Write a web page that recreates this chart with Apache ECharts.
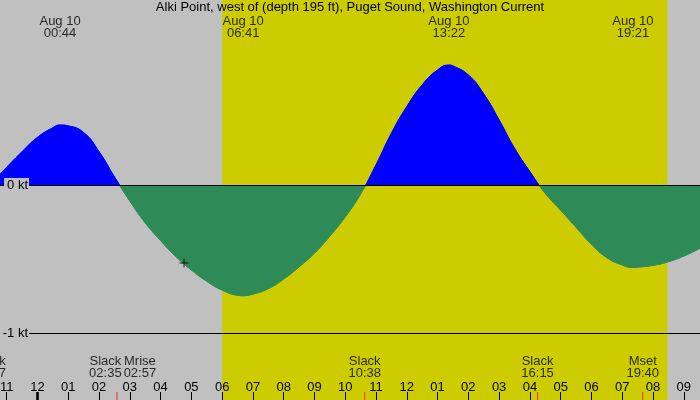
<!DOCTYPE html>
<html>
<head>
<meta charset="utf-8">
<script src="https://cdn.jsdelivr.net/npm/echarts@6/dist/echarts.min.js"></script>
<style>
  html, body { margin: 0; padding: 0; background: #c0c0c0; }
  #chart { width: 700px; height: 400px; }
</style>
</head>
<body>
<div id="chart"></div>
<script>
// hours after midnight Aug 10 (negative = Aug 9), current in knots (+ flood, - ebb)
const flowHours = [-1.5, -1, -0.5, 0, 0.5, 0.733, 1, 1.5, 2, 2.5, 3,
  3.5, 4, 4.5, 5, 5.5, 6, 6.5, 6.683, 7, 7.5, 8,
  8.5, 9, 9.5, 10, 10.5, 11, 11.5, 12, 12.5, 13, 13.367,
  13.5, 14, 14.5, 15, 15.5, 16, 16.5, 17, 17.5, 18,
  18.5, 19, 19.35, 19.5, 20, 20.5, 21, 21.53]
const flowKnots = [0.01, 0.12, 0.225, 0.322, 0.387, 0.405, 0.399, 0.354, 0.225, 0.055, -0.108,
  -0.255, -0.375, -0.484, -0.574, -0.65, -0.71, -0.745, -0.748, -0.737, -0.7, -0.635,
  -0.553, -0.46, -0.345, -0.215, -0.06, 0.135, 0.349, 0.529, 0.676, 0.777, 0.81,
  0.804, 0.743, 0.615, 0.439, 0.248, 0.09, -0.056, -0.17, -0.285, -0.4,
  -0.49, -0.54, -0.557, -0.555, -0.543, -0.518, -0.48, -0.427]

// max flood / max ebb
const peakHours = [0.733, 6.683, 13.367, 19.35]
const peakTimes = ['00:44', '06:41', '13:22', '19:21']
const peakDate = 'Aug 10'

// slack water and moon events along the bottom
const eventHours = [-1.55, 2.583, 2.95, 10.633, 16.25, 19.667]
const eventNames = ['Slack', 'Slack', 'Mrise', 'Slack', 'Slack', 'Mset']
const eventTimes = ['22:27', '02:35', '02:57', '10:38', '16:15', '19:40']

const hourTicks = []
for (let h = -1; h <= 21; h++) hourTicks.push(h)
const midnightHours = [0]
const daylight = [6.0, 20.47] // sunrise, sunset
const nowMark = [[4.761, -0.527]]
const knotTicks = [-1, 0]

const xMin = -1.2186
const xMax = 21.528

const FONT = 'Liberation Sans'
const BLUE = '#0000ff'
const GREEN = '#2e8b57'
const YELLOW = '#cccc00'
const GREY = '#c0c0c0'

const flowData = flowHours.map((h, i) => [h, flowKnots[i]])
const events = eventHours.map((h, i) => ({ value: [h, 0], name: eventNames[i] + '\n' + eventTimes[i] }))
const edgeEvents = events.filter(e => e.value[0] < xMin)
const innerEvents = events.filter(e => e.value[0] >= xMin)
const redTicks = eventHours.filter((h, i) => eventNames[i] !== 'Mrise').map(h => [h, 0])

function hourLabel(v) {
  const h = ((v % 12) + 12) % 12 || 12
  return String(h).padStart(2, '0')
}

const textBase = { fontFamily: FONT, fontSize: 13, color: '#000', lineHeight: 12 }

const eventLabel = {
  show: true,
  position: 'top',
  distance: 20,
  formatter: p => p.name,
  ...textBase
}

const chart = echarts.init(document.getElementById('chart'))

chart.setOption({
  backgroundColor: GREY,
  animation: false,
  title: {
    text: 'Alki Point, west of (depth 195 ft), Puget Sound, Washington Current',
    left: 'center',
    top: 1,
    padding: 0,
    textStyle: { fontFamily: FONT, fontSize: 13, fontWeight: 'normal', color: '#000' }
  },
  grid: [
    { left: 0, right: 0, top: 37, bottom: 67, outerBoundsMode: 'none', containLabel: false },
    { left: 0, right: 0, top: 0, bottom: 0, outerBoundsMode: 'none', containLabel: false }
  ],
  xAxis: [
    { type: 'value', gridIndex: 0, min: xMin, max: xMax, show: false },
    {
      type: 'value', gridIndex: 1, min: xMin, max: xMax, z: 5,
      axisLine: { show: false },
      splitLine: { show: false },
      axisTick: { show: true, inside: true, length: 8, customValues: hourTicks, lineStyle: { color: '#000', width: 1 } },
      axisLabel: { inside: true, margin: 6, customValues: hourTicks, formatter: hourLabel, fontFamily: FONT, fontSize: 13, color: '#000' }
    }
  ],
  yAxis: [
    {
      type: 'value', gridIndex: 0, min: -1, max: 1, z: 6,
      axisLine: { show: false },
      axisTick: { show: false },
      splitLine: { show: false },
      axisLabel: {
        inside: true, align: 'right', margin: 29, customValues: knotTicks,
        formatter: v => v + ' kt',
        fontFamily: FONT, fontSize: 13, color: '#000',
        backgroundColor: GREY, padding: [1, 1, 0, 3]
      }
    },
    { type: 'value', gridIndex: 1, min: 0, max: 1, show: false }
  ],
  visualMap: {
    show: false,
    type: 'piecewise',
    seriesIndex: 1,
    dimension: 1,
    pieces: [{ gte: -1, lt: 0, color: GREEN }, { gte: 0, lte: 1, color: BLUE }],
    outOfRange: { color: BLUE }
  },
  series: [
    {
      // daylight band and event ticks on the full-frame grid
      type: 'scatter', xAxisIndex: 1, yAxisIndex: 1, z: 2,
      symbol: 'rect', symbolSize: [1, 8], symbolOffset: [0, -4],
      itemStyle: { color: '#ff0000' },
      silent: true, clip: false,
      data: redTicks,
      markArea: {
        silent: true,
        itemStyle: { color: YELLOW },
        data: [[{ xAxis: daylight[0] }, { xAxis: daylight[1] }]]
      }
    },
    {
      type: 'line', xAxisIndex: 0, yAxisIndex: 0, z: 3,
      data: flowData,
      smooth: 0.5,
      showSymbol: false,
      lineStyle: { width: 1 },
      areaStyle: { opacity: 1, origin: 0 },
      silent: true,
      markLine: {
        silent: true,
        symbol: 'none',
        label: { show: false },
        lineStyle: { color: '#000', width: 1, type: 'solid' },
        data: knotTicks.map(k => ({ yAxis: k }))
      }
    },
    {
      type: 'scatter', xAxisIndex: 1, yAxisIndex: 1, z: 4,
      symbol: 'rect', symbolSize: [3, 8], symbolOffset: [0, -4],
      itemStyle: { color: '#000' }, silent: true,
      data: midnightHours.map(h => [h, 0])
    },
    {
      type: 'scatter', xAxisIndex: 0, yAxisIndex: 0, z: 4,
      symbol: 'path://M4,0h1v4h4v1h-4v4h-1v-4h-4v-1h4z', symbolSize: 9,
      itemStyle: { color: '#000' }, silent: true,
      data: nowMark
    },
    {
      type: 'scatter', xAxisIndex: 1, yAxisIndex: 1, z: 4,
      symbolSize: 1, itemStyle: { color: 'transparent' }, silent: true, clip: false,
      data: peakHours.map((h, i) => ({ value: [h, 1], name: peakDate + '\n' + peakTimes[i] })),
      label: { show: true, position: 'bottom', distance: 14.5, formatter: p => p.name, ...textBase }
    },
    {
      id: 'events',
      type: 'scatter', xAxisIndex: 1, yAxisIndex: 1, z: 4,
      symbolSize: 1, itemStyle: { color: 'transparent' }, silent: true, clip: false,
      data: innerEvents,
      label: eventLabel
    },
    {
      type: 'scatter', xAxisIndex: 1, yAxisIndex: 1, z: 4,
      symbolSize: 1, itemStyle: { color: 'transparent' }, silent: true, clip: false,
      data: edgeEvents,
      label: eventLabel
    }
  ]
})

// push neighbouring event labels apart when they would overlap
function spreadEventLabels() {
  const ctx = document.createElement('canvas').getContext('2d')
  ctx.font = '13px "' + FONT + '"'
  const items = innerEvents.map(e => ({
    x: chart.convertToPixel({ xAxisIndex: 1 }, e.value[0]),
    w: Math.max(...e.name.split('\n').map(s => ctx.measureText(s).width)),
    shift: 0
  }))
  for (let i = 1; i < items.length; i++) {
    const a = items[i - 1]
    const b = items[i]
    const need = (a.w + b.w) / 2 + 2 - ((b.x + b.shift) - (a.x + a.shift))
    if (need > 0) {
      a.shift -= need / 2
      b.shift += need / 2
    }
  }
  chart.setOption({
    series: [{
      id: 'events',
      data: innerEvents.map((e, i) => ({ ...e, label: { offset: [items[i].shift, 0] } }))
    }]
  })
}
spreadEventLabels()
</script>
</body>
</html>
